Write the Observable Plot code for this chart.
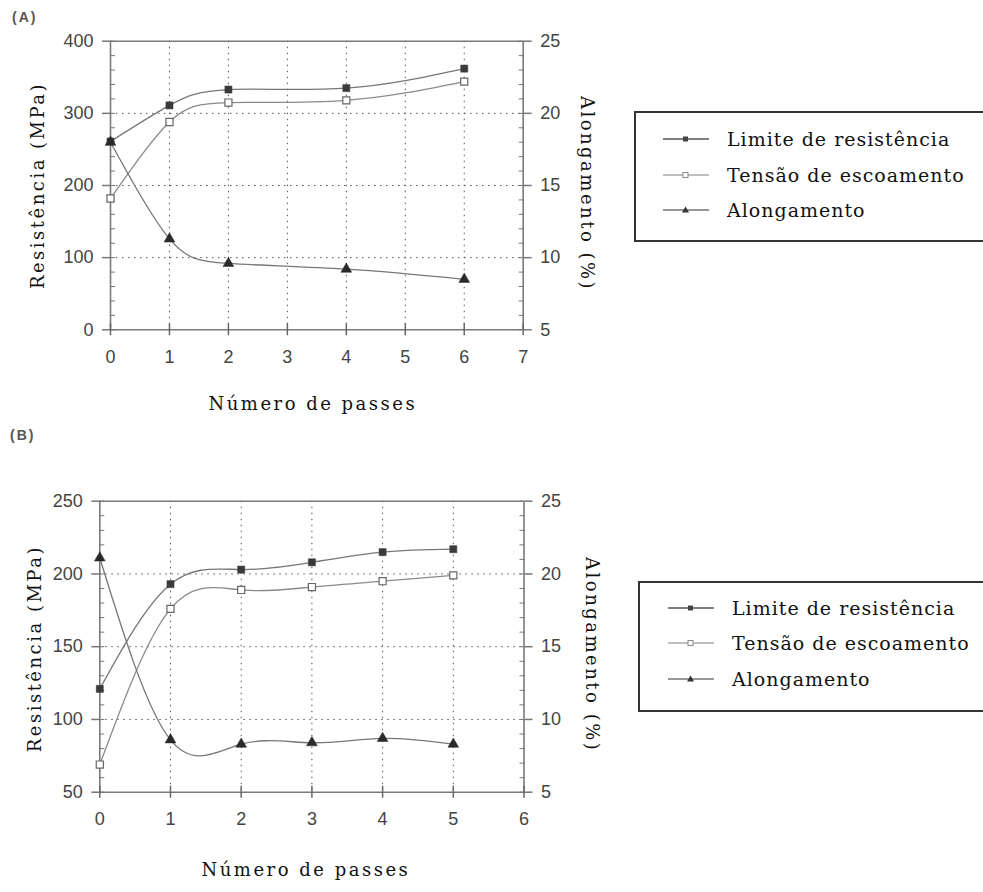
<!DOCTYPE html>
<html><head><meta charset="utf-8">
<script src="https://cdn.jsdelivr.net/npm/d3@7"></script>
<script src="https://cdn.jsdelivr.net/npm/@observablehq/plot@0.6"></script>
<style>
body{margin:0;background:#fff;}
#wrap{position:relative;width:983px;height:892px;overflow:hidden;background:#fff;}
.panel{position:absolute;font-family:"Liberation Sans",Arial,sans-serif;color:#555;font-size:14px;font-weight:bold;letter-spacing:2px;}
.chart{position:absolute;left:0;}
.legend{position:absolute;border:2px solid #333;background:#fff;box-sizing:border-box;}
.legend .row{position:absolute;display:flex;align-items:center;height:30px;}
.legend svg{display:block;margin-right:18px;}
.legend span{font-family:"DejaVu Serif",serif;font-size:19px;letter-spacing:1px;color:#111;white-space:nowrap;}
g[aria-label="text"] text{letter-spacing:2.5px;}
</style></head><body><div id="wrap"></div>
<script>
// ---- data ----
const seriesNames = ["Limite de resistência", "Tensão de escoamento", "Alongamento"];
const passesA = [0, 1, 2, 4, 6];
const limiteA = [261, 311, 333, 335, 362];
const tensaoA = [182, 288, 315, 318, 344];
const alongamentoA = [18.0, 11.3, 9.6, 9.2, 8.5];
const passesB = [0, 1, 2, 3, 4, 5];
const limiteB = [121, 193, 203, 208, 215, 217];
const tensaoB = [69, 176, 189, 191, 195, 199];
const alongamentoB = [21.1, 8.6, 8.3, 8.4, 8.7, 8.3];
const xTicksA = [0, 1, 2, 3, 4, 5, 6, 7];
const yTicksA = [0, 100, 200, 300, 400];
const y2TicksA = [5, 10, 15, 20, 25];
const xTicksB = [0, 1, 2, 3, 4, 5, 6];
const yTicksB = [50, 100, 150, 200, 250];
const y2TicksB = [5, 10, 15, 20, 25];
const panelLabels = ["(A)", "(B)"];
const xTitle = "Número de passes";
const yTitle = "Resistência (MPa)";
const y2Title = "Alongamento (%)";

const wrap = document.getElementById("wrap");

function chart(cfg) {
  const {passes, limite, tensao, along, xTicks, yTicks, y2Ticks, minorStep} = cfg;
  const toLeft = d3.scaleLinear().domain(d3.extent(y2Ticks)).range(d3.extent(yTicks));
  const toRight = d3.scaleLinear().domain(d3.extent(yTicks)).range(d3.extent(y2Ticks));
  const limData = passes.map((x, i) => ({x, y: limite[i]}));
  const tenData = passes.map((x, i) => ({x, y: tensao[i]}));
  const alData = passes.map((x, i) => ({x, y: toLeft(along[i])}));
  const [y0, y1] = d3.extent(yTicks);
  const [x0, x1] = d3.extent(xTicks);
  const minor = d3.range(y0, y1 + 0.001, minorStep);
  const grid = {stroke: "#555", strokeWidth: 1, strokeDasharray: "1.5,4.5"};
  const frame = {stroke: "#7a7a7a", strokeWidth: 1.6};
  const lineStyle = {x: "x", y: "y", curve: "natural", stroke: "#777", strokeWidth: 1.3};
  const titleStyle = {fontFamily: "DejaVu Serif", fontSize: 18, fill: "#111", textAnchor: "middle", lineAnchor: "middle"};
  const fmt = d3.format("d");
  return Plot.plot({
    width: cfg.width, height: cfg.height,
    marginLeft: cfg.ml, marginRight: cfg.mr, marginTop: cfg.mt, marginBottom: cfg.mb,
    x: {domain: [x0, x1]},
    y: {domain: [y0, y1]},
    style: {fontFamily: "Liberation Sans, Arial, sans-serif", fontSize: "18px", color: "#444", background: "transparent", overflow: "visible"},
    marks: [
      Plot.ruleY(yTicks.slice(1, -1), grid),
      Plot.ruleX(xTicks.slice(1, -1), grid),
      Plot.ruleY([y0, y1], frame),
      Plot.ruleX([x0, x1], frame),
      Plot.axisY({anchor: "left", ticks: yTicks, tickSize: 8, tickPadding: 9, label: null, stroke: "#777", strokeWidth: 1.5, tickFormat: fmt}),
      Plot.axisY({anchor: "left", ticks: minor, tickSize: -5, fill: "none", label: null, stroke: "#777"}),
      Plot.axisY({anchor: "right", ticks: yTicks, tickSize: 8, tickPadding: 9, label: null, stroke: "#777", strokeWidth: 1.5, tickFormat: d => fmt(toRight(d))}),
      Plot.axisY({anchor: "right", ticks: minor, tickSize: -5, fill: "none", label: null, stroke: "#777"}),
      Plot.axisX({ticks: xTicks, tickSize: 6, tickPadding: 14, label: null, stroke: "#666", strokeWidth: 1.5, tickFormat: fmt}),
      Plot.axisX({ticks: xTicks, tickSize: -6, fill: "none", label: null, stroke: "#666", strokeWidth: 1.5}),
      Plot.line(limData, lineStyle),
      Plot.line(tenData, {...lineStyle, stroke: "#8a8a8a"}),
      Plot.line(alData, lineStyle),
      Plot.dot(limData, {x: "x", y: "y", symbol: "square", r: 4, fill: "#3a3a3a", stroke: "#3a3a3a", strokeWidth: 0.5}),
      Plot.dot(tenData, {x: "x", y: "y", symbol: "square", r: 4, fill: "#fff", stroke: "#666", strokeWidth: 1.2}),
      Plot.dot(alData, {x: "x", y: "y", symbol: "triangle", r: 4, fill: "#2a2a2a", stroke: "#2a2a2a", strokeWidth: 0.5}),
      Plot.text([xTitle], {frameAnchor: "bottom", dy: cfg.xtDy, dx: cfg.xtDx, ...titleStyle}),
      Plot.text([yTitle], {frameAnchor: "left", rotate: -90, dx: cfg.ytDx, dy: cfg.ytDy, ...titleStyle}),
      Plot.text([y2Title], {frameAnchor: "right", rotate: 90, dx: cfg.y2Dx, dy: cfg.y2Dy, ...titleStyle})
    ]
  });
}

function place(el, left, top) {
  el.style.position = "absolute"; el.style.left = left + "px"; el.style.top = top + "px";
  wrap.appendChild(el);
}

const svgA = chart({
  passes: passesA, limite: limiteA, tensao: tensaoA, along: alongamentoA,
  xTicks: xTicksA, yTicks: yTicksA, y2Ticks: y2TicksA, minorStep: 20,
  width: 620, height: 420, ml: 110, mr: 97.3, mt: 40.7, mb: 90.7,
  xtDy: 74, xtDx: -4, ytDx: -72, ytDy: 0, y2Dx: 64, y2Dy: 8
});
place(svgA, 0, 0);

const svgB = chart({
  passes: passesB, limite: limiteB, tensao: tensaoB, along: alongamentoB,
  xTicks: xTicksB, yTicks: yTicksB, y2Ticks: y2TicksB, minorStep: 10,
  width: 620, height: 452, ml: 99.3, mr: 96.5, mt: 60.7, mb: 100.3,
  xtDy: 78, xtDx: -6, ytDx: -65, ytDy: 2, y2Dx: 68, y2Dy: 8
});
place(svgB, 0, 440);

// panel labels
[[panelLabels[0], 12, 9], [panelLabels[1], 10, 427]].forEach(([t, l, tp]) => {
  const d = document.createElement("div"); d.className = "panel"; d.textContent = t;
  d.style.left = l + "px"; d.style.top = tp + "px"; wrap.appendChild(d);
});

// legends
function symbol(i) {
  const s = d3.create("svg").attr("width", 46).attr("height", 12);
  const colors = ["#555", "#aaa", "#777"];
  s.append("line").attr("x1", 0).attr("x2", 46).attr("y1", 6).attr("y2", 6).attr("stroke", colors[i]).attr("stroke-width", 1.3);
  if (i === 0) s.append("rect").attr("x", 20).attr("y", 3.5).attr("width", 5).attr("height", 5).attr("fill", "#444");
  if (i === 1) s.append("rect").attr("x", 20).attr("y", 3.5).attr("width", 5).attr("height", 5).attr("fill", "#fff").attr("stroke", "#888");
  if (i === 2) s.append("path").attr("d", "M22.5,2.5L26,8.5L19,8.5Z").attr("fill", "#333");
  return s.node();
}
function legend(left, top, rowYs, symX) {
  const box = document.createElement("div"); box.className = "legend";
  box.style.left = left + "px"; box.style.top = top + "px";
  box.style.width = "400px"; box.style.height = "131px";
  seriesNames.forEach((name, i) => {
    const row = document.createElement("div"); row.className = "row";
    row.style.left = symX + "px"; row.style.top = (rowYs[i] - 15) + "px";
    row.appendChild(symbol(i));
    const sp = document.createElement("span"); sp.textContent = name; row.appendChild(sp);
    box.appendChild(row);
  });
  wrap.appendChild(box);
}
legend(634, 111, [26, 62, 97], 27);
legend(638, 581, [25, 60, 96], 28);
</script></body></html>
